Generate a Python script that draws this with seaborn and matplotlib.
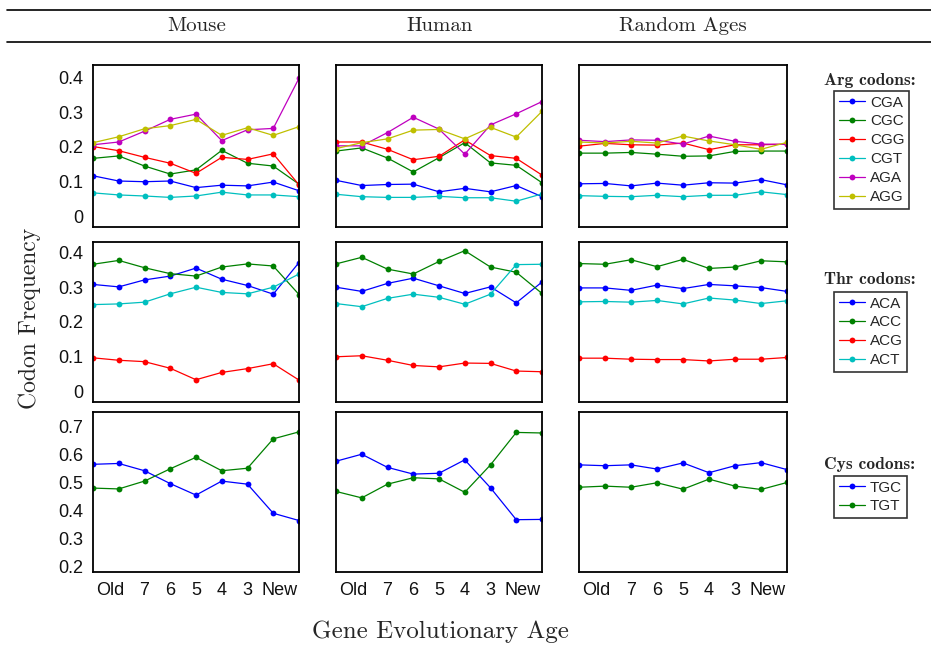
import numpy as np
import pandas as pd
import seaborn as sns
import matplotlib.pyplot as plt
from matplotlib.lines import Line2D

# x axis: nine age groups, labelled Old..New
ages = [1, 2, 3, 4, 5, 6, 7, 8, 9]
age_labels = ["Old", "7", "6", "5", "4", "3", "New"]
species = ["Mouse", "Human", "Random Ages"]

arg_codons = ["CGA", "CGC", "CGG", "CGT", "AGA", "AGG"]
thr_codons = ["ACA", "ACC", "ACG", "ACT"]
cys_codons = ["TGC", "TGT"]

# MATLAB style line colours b, g, r, c, m, y
codon_colors = ["#0000ff", "#008000", "#ff0000", "#00bfbf", "#bf00bf", "#bfbf00"]

# Arg codon frequencies
mouse_arg = {
    "CGA": [0.117, 0.102, 0.100, 0.102, 0.083, 0.090, 0.088, 0.099, 0.074],
    "CGC": [0.167, 0.174, 0.145, 0.122, 0.134, 0.190, 0.153, 0.145, 0.093],
    "CGG": [0.201, 0.189, 0.170, 0.153, 0.124, 0.170, 0.164, 0.180, 0.091],
    "CGT": [0.068, 0.062, 0.059, 0.055, 0.059, 0.070, 0.062, 0.062, 0.057],
    "AGA": [0.206, 0.214, 0.245, 0.279, 0.294, 0.218, 0.249, 0.253, 0.397],
    "AGG": [0.212, 0.229, 0.252, 0.261, 0.279, 0.233, 0.255, 0.233, 0.258],
}
human_arg = {
    "CGA": [0.104, 0.089, 0.092, 0.093, 0.071, 0.081, 0.071, 0.089, 0.057],
    "CGC": [0.188, 0.197, 0.168, 0.128, 0.169, 0.212, 0.154, 0.147, 0.097],
    "CGG": [0.214, 0.214, 0.193, 0.163, 0.173, 0.220, 0.175, 0.167, 0.119],
    "CGT": [0.064, 0.057, 0.055, 0.055, 0.058, 0.054, 0.054, 0.044, 0.065],
    "AGA": [0.203, 0.203, 0.241, 0.285, 0.251, 0.179, 0.263, 0.295, 0.330],
    "AGG": [0.195, 0.212, 0.223, 0.248, 0.250, 0.223, 0.256, 0.228, 0.302],
}
random_arg = {
    "CGA": [0.094, 0.095, 0.088, 0.096, 0.090, 0.097, 0.096, 0.106, 0.091],
    "CGC": [0.182, 0.182, 0.184, 0.179, 0.173, 0.174, 0.187, 0.188, 0.188],
    "CGG": [0.202, 0.210, 0.206, 0.205, 0.211, 0.192, 0.206, 0.206, 0.208],
    "CGT": [0.060, 0.058, 0.057, 0.061, 0.057, 0.061, 0.061, 0.071, 0.063],
    "AGA": [0.219, 0.215, 0.220, 0.219, 0.208, 0.231, 0.216, 0.208, 0.207],
    "AGG": [0.214, 0.211, 0.216, 0.211, 0.231, 0.217, 0.206, 0.193, 0.213],
}

# Thr codon frequencies
mouse_thr = {
    "ACA": [0.308, 0.301, 0.321, 0.332, 0.355, 0.323, 0.305, 0.280, 0.371],
    "ACC": [0.366, 0.377, 0.356, 0.339, 0.332, 0.358, 0.367, 0.361, 0.279],
    "ACG": [0.097, 0.090, 0.086, 0.067, 0.034, 0.055, 0.066, 0.080, 0.033],
    "ACT": [0.250, 0.252, 0.257, 0.281, 0.300, 0.285, 0.281, 0.300, 0.338],
}
human_thr = {
    "ACA": [0.300, 0.288, 0.311, 0.326, 0.304, 0.282, 0.301, 0.255, 0.315],
    "ACC": [0.367, 0.386, 0.352, 0.338, 0.374, 0.405, 0.358, 0.343, 0.282],
    "ACG": [0.100, 0.103, 0.090, 0.075, 0.071, 0.082, 0.081, 0.059, 0.057],
    "ACT": [0.253, 0.244, 0.268, 0.280, 0.271, 0.251, 0.280, 0.365, 0.366],
}
random_thr = {
    "ACA": [0.298, 0.298, 0.291, 0.306, 0.296, 0.308, 0.304, 0.299, 0.288],
    "ACC": [0.368, 0.366, 0.379, 0.359, 0.380, 0.354, 0.358, 0.376, 0.373],
    "ACG": [0.096, 0.096, 0.093, 0.092, 0.092, 0.088, 0.093, 0.093, 0.098],
    "ACT": [0.258, 0.259, 0.257, 0.262, 0.252, 0.269, 0.263, 0.253, 0.261],
}

# Cys codon frequencies
mouse_cys = {
    "TGC": [0.565, 0.568, 0.542, 0.496, 0.455, 0.505, 0.494, 0.390, 0.364],
    "TGT": [0.480, 0.477, 0.505, 0.549, 0.590, 0.542, 0.551, 0.656, 0.681],
}
human_cys = {
    "TGC": [0.576, 0.601, 0.554, 0.530, 0.533, 0.581, 0.481, 0.367, 0.368],
    "TGT": [0.468, 0.445, 0.494, 0.517, 0.513, 0.465, 0.563, 0.679, 0.677],
}
random_cys = {
    "TGC": [0.563, 0.560, 0.563, 0.548, 0.570, 0.535, 0.560, 0.571, 0.546],
    "TGT": [0.483, 0.487, 0.483, 0.499, 0.476, 0.512, 0.487, 0.475, 0.500],
}

rows = [
    ("Arg codons:", arg_codons, [mouse_arg, human_arg, random_arg]),
    ("Thr codons:", thr_codons, [mouse_thr, human_thr, random_thr]),
    ("Cys codons:", cys_codons, [mouse_cys, human_cys, random_cys]),
]

sns.set_style("white")
plt.rcParams["font.family"] = ["Liberation Sans", "DejaVu Sans"]

W, H = 931, 649
fig = plt.figure(figsize=(W / 100, H / 100), dpi=100)

def px_axes(x0, y0, x1, y1):
    return fig.add_axes([x0 / W, 1 - y1 / H, (x1 - x0) / W, (y1 - y0) / H])

col_px = [(93, 299), (336, 542), (579, 787)]
row_px = [(65, 227), (242, 402), (412, 572)]
row_ylim = [(-0.03, 0.435), (-0.03, 0.43), (0.18, 0.752)]
row_yticks = [[0, 0.1, 0.2, 0.3, 0.4], [0, 0.1, 0.2, 0.3, 0.4],
              [0.2, 0.3, 0.4, 0.5, 0.6, 0.7]]
legend_top = [91, 292, 476]
title_y = [80, 280, 464]

for r, (aa_title, codons, datasets) in enumerate(rows):
    pal = codon_colors[:len(codons)]
    for c, data in enumerate(datasets):
        ax = px_axes(col_px[c][0], row_px[r][0], col_px[c][1], row_px[r][1])
        df = pd.DataFrame([
            {"age": a, "freq": v, "codon": cod}
            for cod in codons for a, v in zip(ages, data[cod])
        ])
        sns.lineplot(data=df, x="age", y="freq", hue="codon", hue_order=codons,
                     palette=pal, marker="o", markersize=4.2, markeredgewidth=0,
                     linewidth=0.9, legend=False, ax=ax)
        ax.set_xlim(1, 9)
        ax.set_ylim(*row_ylim[r])
        ax.set_xlabel("")
        ax.set_ylabel("")
        ax.set_xticks([1.66, 3, 4, 5, 6, 7, 8.26])
        ax.set_yticks(row_yticks[r])
        if r == 2:
            ax.set_xticklabels(age_labels, fontsize=13)
        else:
            ax.set_xticklabels([])
        if c == 0:
            ax.set_yticklabels(["0" if t == 0 else f"{t:.1f}" for t in row_yticks[r]],
                               fontsize=13)
        else:
            ax.set_yticklabels([])
        ax.tick_params(length=0, pad=7, colors="#111111")
        for sp in ax.spines.values():
            sp.set_color("black")
            sp.set_linewidth(1.3)

        if c == 2:
            handles = ax.get_lines()[:len(codons)]
            leg = fig.legend(handles, codons, loc="upper left",
                             bbox_to_anchor=(834 / W, 1 - legend_top[r] / H),
                             bbox_transform=fig.transFigure, fontsize=11,
                             frameon=True, fancybox=False, edgecolor="black",
                             handlelength=1.75, handletextpad=0.3,
                             labelspacing=0.32, borderpad=0.3, borderaxespad=0)
            leg.get_frame().set_linewidth(1.2)
            fig.text(870 / W, 1 - title_y[r] / H, aa_title, family="cmb10",
                     fontsize=12.5, ha="center", va="center")

# column headers between two rules
for yy in [9.5, 42]:
    fig.add_artist(Line2D([7 / W, 1], [1 - yy / H] * 2, color="black",
                          linewidth=1.2, transform=fig.transFigure))
for name, xc in zip(species, [197, 440, 683]):
    fig.text(xc / W, 1 - 26 / H, name, family="cmr10", fontsize=15,
             ha="center", va="center")

fig.text(30 / W, 1 - 318 / H, "Codon Frequency", family="cmr10", fontsize=17,
         rotation=90, ha="center", va="center")
fig.text(440 / W, 1 - 632 / H, "Gene Evolutionary Age", family="cmr10",
         fontsize=18, ha="center", va="center")

fig.savefig("out.png", dpi=100)
